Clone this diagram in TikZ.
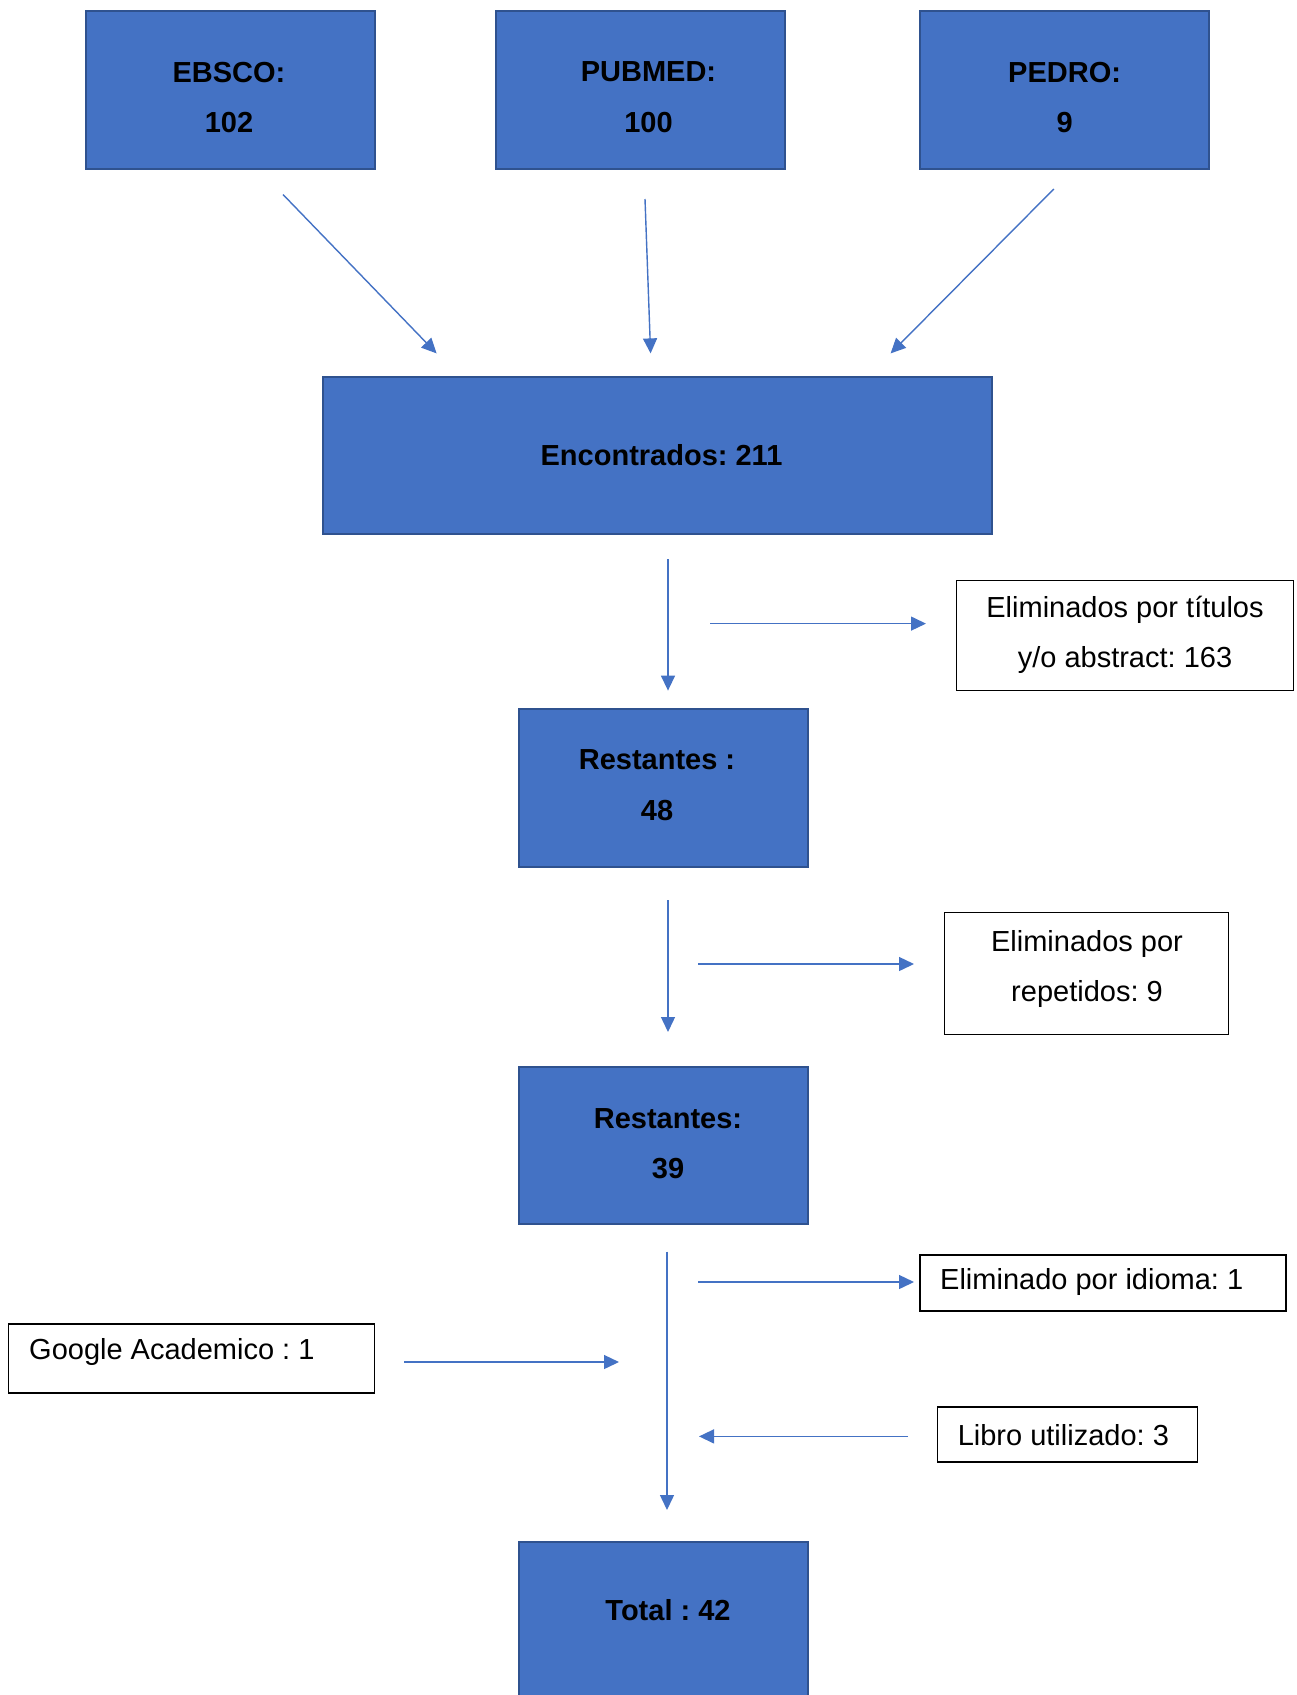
\documentclass[tikz,border=0pt]{standalone}
\usepackage{fontspec}
\setmainfont{Liberation Sans}
\usetikzlibrary{arrows.meta}
\definecolor{boxblue}{HTML}{4472C4}
\definecolor{boxedge}{HTML}{2F528F}
\frenchspacing
\begin{document}
\begin{tikzpicture}[x=1pt,y=-1pt,
  bluebox/.style={draw=boxedge,line width=2pt,fill=boxblue,inner sep=0pt},
  bluetext/.style={inner sep=0pt,align=center,font=\fontsize{29}{50.5}\selectfont\bfseries},
  whitebox/.style={draw=black,line width=1.3pt,fill=white,inner sep=0pt},
  plaintext/.style={inner sep=0pt,align=center,font=\fontsize{29}{50}\selectfont},
  arr/.style={draw=boxblue,line width=1.4pt,-{Triangle[length=15pt,width=14pt]}}]
\useasboundingbox (0,0) rectangle (1297,1695);
% top sources
\node[bluebox,minimum width=289pt,minimum height=158pt] (ebsco) at (230.5,89.7) {};
\node[bluetext] (ebscot) at (229,97.3) {EBSCO:\\102};
\node[bluebox,minimum width=289pt,minimum height=158pt] (pubmed) at (640.5,89.7) {};
\node[bluetext] (pubmedt) at (648.5,97.3) {PUBMED:\\100};
\node[bluebox,minimum width=289pt,minimum height=158pt] (pedro) at (1064,89.7) {};
\node[bluetext] (pedrot) at (1064.6,97.3) {PEDRO:\\9};
% found
\node[bluebox,minimum width=669pt,minimum height=157pt] (enc) at (657.5,455.5) {};
\node[bluetext] (enct) at (661.5,455.5) {Encontrados: 211};
% remaining 48
\node[bluebox,minimum width=289pt,minimum height=158pt] (r48) at (663,788) {};
\node[bluetext] (r48t) at (657,785) {Restantes :\\48};
\node[whitebox,minimum width=337pt,minimum height=110pt] (elim1) at (1125,635.5) {};
\node[plaintext] (elim1t) at (1125,634.5) {Eliminados por títulos\\y/o abstract: 163};
% remaining 39
\node[bluebox,minimum width=289pt,minimum height=157pt] (r39) at (663,1145) {};
\node[bluetext] (r39t) at (668,1143.5) {Restantes:\\39};
\node[whitebox,minimum width=284pt,minimum height=122pt] (elim2) at (1086.8,973.2) {};
\node[plaintext] (elim2t) at (1087,969.4) {Eliminados por\\repetidos: 9};
% side boxes
\node[whitebox,minimum width=366pt,minimum height=56pt] (idioma) at (1103,1283) {};
\node[plaintext,anchor=west] (idiomat) at (940,1282) {Eliminado por idioma: 1};
\node[whitebox,minimum width=366pt,minimum height=69pt] (google) at (191.8,1358.5) {};
\node[plaintext,anchor=west] (googlet) at (29,1352) {Google Academico : 1};
\node[whitebox,minimum width=260pt,minimum height=55pt] (libro) at (1067.2,1434.5) {};
\node[plaintext,anchor=west] (librot) at (957.6,1435) {Libro utilizado: 3};
% total
\node[bluebox,minimum width=289pt,minimum height=158pt,anchor=north] (total) at (663,1541) {};
\node[bluetext] (totalt) at (668,1610) {Total : 42};
% arrow end points
\coordinate (a1s) at (283,194.5);  \coordinate (a1e) at (436.6,353.4);
\coordinate (a2s) at (645,199);    \coordinate (a2e) at (650.6,353.4);
\coordinate (a3s) at (1053.8,189); \coordinate (a3e) at (890.6,353.4);
\coordinate (a4s) at (668,559);    \coordinate (a4e) at (668,690.6);
\coordinate (a5s) at (710,623.6);  \coordinate (a5e) at (926,623.6);
\coordinate (a6s) at (668,900);    \coordinate (a6e) at (668,1032);
\coordinate (a7s) at (698,964);    \coordinate (a7e) at (914,964);
\coordinate (a8s) at (667,1251.6); \coordinate (a8e) at (667,1510);
\coordinate (a9s) at (698,1282);   \coordinate (a9e) at (914,1282);
\coordinate (a10s) at (404,1362);  \coordinate (a10e) at (619,1362);
\coordinate (a11s) at (908,1436.4);\coordinate (a11e) at (699,1436.4);
\foreach \i in {1,...,11}{\draw[arr] (a\i s) -- (a\i e);}
\end{tikzpicture}
\end{document}
